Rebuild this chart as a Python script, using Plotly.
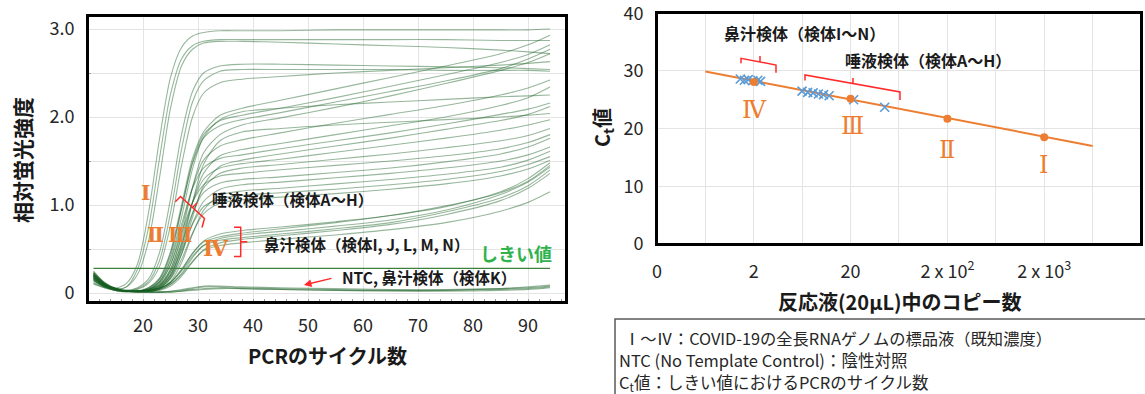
import math
import plotly.graph_objects as go

W, H = 1145, 394
def px(x): return x / W
def py(y): return 1 - y / H

# ---------------- left chart: amplification curves ----------------
cycles = [11, 13, 15, 17, 19, 21, 23, 25, 27, 29, 31, 34, 38, 45, 55, 65, 75, 85, 90, 94]

std_I_a  = [0.24,0.12,0.06,0.11,0.33,0.91,1.75,2.45,2.79,2.92,2.96,2.98,2.98,2.98,2.99,2.99,2.99,2.99,2.99,3.00]
std_I_b  = [0.20,0.10,0.05,0.07,0.27,0.74,1.53,2.26,2.66,2.81,2.86,2.88,2.88,2.88,2.88,2.88,2.88,2.87,2.87,2.87]
std_I_c  = [0.18,0.09,0.04,0.07,0.21,0.59,1.31,2.10,2.58,2.77,2.84,2.86,2.86,2.85,2.83,2.81,2.79,2.76,2.74,2.72]
std_II_a = [0.22,0.11,0.05,0.03,0.06,0.16,0.46,1.07,1.80,2.29,2.50,2.58,2.60,2.60,2.59,2.58,2.57,2.56,2.55,2.54]
std_II_b = [0.17,0.08,0.04,0.02,0.05,0.13,0.37,0.91,1.63,2.17,2.41,2.52,2.54,2.54,2.54,2.54,2.53,2.53,2.53,2.52]
std_II_c = [0.20,0.09,0.04,0.02,0.04,0.11,0.30,0.77,1.45,2.00,2.27,2.39,2.43,2.46,2.50,2.53,2.56,2.59,2.61,2.63]

sal_h1 = [0.21,0.10,0.05,0.02,0.02,0.06,0.17,0.47,1.00,1.53,1.83,2.02,2.10,2.19,2.32,2.45,2.58,2.72,2.82,2.93]
sal_h2 = [0.16,0.08,0.04,0.02,0.02,0.05,0.13,0.38,0.86,1.41,1.77,1.97,2.06,2.10,2.14,2.17,2.20,2.23,2.24,2.25]
sal_h3 = [0.19,0.09,0.04,0.02,0.02,0.06,0.16,0.45,0.96,1.47,1.76,1.90,1.97,2.05,2.17,2.29,2.41,2.55,2.66,2.77]
sal_h4 = [0.23,0.11,0.05,0.02,0.02,0.04,0.09,0.27,0.66,1.20,1.59,1.80,1.91,1.99,2.11,2.24,2.38,2.53,2.62,2.72]
sal_h5 = [0.15,0.07,0.03,0.02,0.02,0.03,0.07,0.20,0.53,1.03,1.46,1.73,1.83,1.87,1.91,1.94,1.97,2.00,2.02,2.04]
sal_h6 = [0.18,0.09,0.04,0.02,0.02,0.05,0.15,0.42,0.95,1.49,1.80,1.96,2.02,2.10,2.22,2.35,2.48,2.62,2.71,2.82]

mid_1 = [0.20,0.10,0.04,0.02,0.02,0.04,0.11,0.32,0.73,1.20,1.51,1.67,1.74,1.82,1.93,2.03,2.13,2.25,2.33,2.42]
mid_2 = [0.17,0.08,0.04,0.02,0.02,0.03,0.08,0.24,0.57,1.03,1.36,1.56,1.63,1.70,1.80,1.90,2.00,2.13,2.22,2.34]
mid_3 = [0.22,0.10,0.05,0.02,0.02,0.04,0.13,0.36,0.78,1.19,1.42,1.53,1.57,1.64,1.73,1.82,1.92,2.03,2.09,2.16]
mid_4 = [0.14,0.07,0.03,0.02,0.02,0.03,0.06,0.17,0.44,0.86,1.22,1.44,1.51,1.58,1.67,1.76,1.86,1.96,2.03,2.12]
mid_5 = [0.19,0.09,0.04,0.02,0.02,0.04,0.10,0.27,0.62,1.03,1.29,1.42,1.47,1.52,1.60,1.68,1.76,1.85,1.91,1.97]
mid_6 = [0.16,0.08,0.04,0.02,0.02,0.03,0.07,0.21,0.50,0.90,1.19,1.36,1.42,1.46,1.52,1.58,1.65,1.73,1.79,1.87]
mid_7 = [0.21,0.10,0.05,0.02,0.02,0.04,0.12,0.32,0.68,1.03,1.23,1.33,1.36,1.40,1.45,1.50,1.56,1.64,1.71,1.80]

low_1 = [0.18,0.09,0.04,0.02,0.02,0.03,0.09,0.24,0.55,0.91,1.14,1.25,1.29,1.32,1.37,1.42,1.49,1.58,1.66,1.76]
low_2 = [0.20,0.10,0.04,0.02,0.02,0.03,0.06,0.18,0.44,0.79,1.04,1.18,1.23,1.26,1.31,1.36,1.42,1.50,1.57,1.66]
low_3 = [0.15,0.07,0.03,0.02,0.02,0.02,0.05,0.13,0.34,0.67,0.94,1.11,1.16,1.19,1.24,1.29,1.35,1.43,1.51,1.61]
low_4 = [0.23,0.11,0.05,0.02,0.02,0.03,0.08,0.20,0.48,0.78,0.98,1.07,1.11,1.14,1.18,1.23,1.29,1.38,1.46,1.55]
low_5 = [0.17,0.08,0.04,0.02,0.02,0.02,0.06,0.16,0.38,0.68,0.90,1.02,1.06,1.09,1.13,1.18,1.24,1.33,1.41,1.51]

nas_1 = [0.22,0.11,0.05,0.03,0.02,0.02,0.05,0.12,0.26,0.45,0.59,0.67,0.71,0.75,0.81,0.88,0.98,1.15,1.30,1.48]
nas_2 = [0.19,0.09,0.04,0.02,0.02,0.02,0.04,0.10,0.22,0.40,0.54,0.62,0.66,0.70,0.76,0.83,0.94,1.12,1.26,1.43]
nas_3 = [0.25,0.12,0.05,0.03,0.02,0.02,0.05,0.12,0.25,0.42,0.54,0.60,0.63,0.67,0.73,0.80,0.92,1.08,1.22,1.40]
nas_4 = [0.17,0.08,0.04,0.02,0.02,0.02,0.03,0.08,0.19,0.35,0.49,0.57,0.61,0.65,0.71,0.78,0.89,1.05,1.19,1.36]
nas_5 = [0.21,0.10,0.05,0.02,0.02,0.02,0.04,0.10,0.21,0.36,0.48,0.54,0.57,0.61,0.66,0.72,0.80,0.93,1.03,1.15]
nas_6 = [0.20,0.10,0.04,0.02,0.02,0.02,0.05,0.12,0.27,0.45,0.58,0.64,0.68,0.73,0.80,0.88,0.99,1.14,1.27,1.45]

ntc_1 = [0.12,0.07,0.04,0.02,0.01,0.01,0.01,0.02,0.03,0.05,0.07,0.07,0.06,0.05,0.04,0.03,0.03,0.05,0.07,0.09]
ntc_2 = [0.10,0.06,0.03,0.01,0.01,0.01,0.01,0.01,0.02,0.04,0.05,0.06,0.05,0.04,0.03,0.02,0.02,0.03,0.04,0.06]
ntc_3 = [0.14,0.08,0.04,0.02,0.01,0.01,0.01,0.02,0.04,0.06,0.08,0.08,0.07,0.06,0.05,0.04,0.04,0.05,0.06,0.08]
ntc_K = [0.11,0.06,0.03,0.02,0.01,0.01,0.01,0.01,0.02,0.03,0.04,0.05,0.05,0.04,0.03,0.03,0.03,0.04,0.05,0.07]

threshold_x = [11, 94]
threshold_y = [0.28, 0.28]

curves = [std_I_a, std_I_b, std_I_c, std_II_a, std_II_b, std_II_c,
          sal_h1, sal_h2, sal_h3, sal_h4, sal_h5, sal_h6,
          mid_1, mid_2, mid_3, mid_4, mid_5, mid_6, mid_7,
          low_1, low_2, low_3, low_4, low_5,
          nas_1, nas_2, nas_3, nas_4, nas_5, nas_6,
          ntc_1, ntc_2, ntc_3, ntc_K]

left_xticks = [20, 30, 40, 50, 60, 70, 80, 90]
left_yticks = [0, 1.0, 2.0, 3.0]
left_ylabels = ["0", "1.0", "2.0", "3.0"]
left_yminor = [0.5, 1.5, 2.5]

# ---------------- right chart: Ct vs copies ----------------
std_copies = [2, 20, 200, 2000]
std_ct = [28.1, 25.2, 21.7, 18.5]
fit_copies = [0.632, 6325]
fit_ct = [29.9, 17.0]
nasal_copies = [1.45, 1.6, 1.75, 1.95, 2.2, 2.35]
nasal_ct = [28.6, 28.4, 28.5, 28.3, 28.4, 28.2]
saliva_copies = [6.3, 7.2, 8.2, 9.3, 10.5, 12.0, 21.5, 45]
saliva_ct = [26.5, 26.3, 26.2, 26.0, 25.9, 25.7, 25.0, 23.7]

right_xticks = [0.2, 2, 20, 200, 2000]
right_xlabels = ["0", "2", "20", "2 x 10<sup>2</sup>", "2 x 10<sup>3</sup>"]
right_xminor = [0.632, 6.32, 63.2, 632, 6325, 20000]
right_yticks = [0, 10, 20, 30, 40]

FONT = "Noto Sans CJK JP"
GREEN = "rgba(25,95,35,0.45)"
ORANGE = "#ED7D31"
BLUE = "#5B9BD5"
RED = "#FF2A2A"
ROMAN = "DejaVu Serif"
GRID = "#e4e4e4"

fig = go.Figure()
for ys in curves:
    fig.add_trace(go.Scatter(x=cycles, y=ys, mode="lines", xaxis="x", yaxis="y",
                             line=dict(color=GREEN, width=1.1, shape="spline", smoothing=0.8),
                             hoverinfo="skip", showlegend=False))
fig.add_trace(go.Scatter(x=threshold_x, y=threshold_y, mode="lines", xaxis="x", yaxis="y",
                         line=dict(color="#3f7f3f", width=1.2), showlegend=False))

fig.add_trace(go.Scatter(x=fit_copies, y=fit_ct, mode="lines", xaxis="x2", yaxis="y2",
                         line=dict(color=ORANGE, width=2), showlegend=False))
fig.add_trace(go.Scatter(x=nasal_copies, y=nasal_ct, mode="markers", xaxis="x2", yaxis="y2",
                         marker=dict(symbol="x-thin", size=9, line=dict(color=BLUE, width=1.6)),
                         showlegend=False))
fig.add_trace(go.Scatter(x=saliva_copies, y=saliva_ct, mode="markers", xaxis="x2", yaxis="y2",
                         marker=dict(symbol="x-thin", size=9, line=dict(color=BLUE, width=1.6)),
                         showlegend=False))
fig.add_trace(go.Scatter(x=std_copies, y=std_ct, mode="markers", xaxis="x2", yaxis="y2",
                         marker=dict(size=8, color=ORANGE), showlegend=False))

def axis(**kw):
    d = dict(showline=True, mirror=True, linecolor="black", linewidth=2,
             zeroline=False, gridcolor=GRID, gridwidth=1, automargin=False,
             showgrid=True, ticks="", ticklabeloverflow="allow",
             tickfont=dict(family=FONT, size=18, color="#262626"))
    d.update(kw)
    return d

fig.update_layout(
    width=W, height=H, autosize=False,
    margin=dict(l=0, r=0, t=0, b=0, pad=0),
    paper_bgcolor="white", plot_bgcolor="white",
    font=dict(family=FONT, color="#222"),
    showlegend=False,
    xaxis=axis(domain=[px(88), px(566)], range=[10, 96.9], tickvals=left_xticks,
               anchor="y", ticklabelstandoff=6,
               minor=dict(ticks="inside", dtick=2, ticklen=3, tickcolor="#999", showgrid=False)),
    yaxis=axis(domain=[py(302), py(16)], range=[-0.102, 3.148], tickvals=left_yticks,
               ticktext=left_ylabels, anchor="x", ticklabelstandoff=8,
               minor=dict(ticks="inside", tickvals=left_yminor, ticklen=3,
                          tickcolor="#999", showgrid=True, gridcolor=GRID, gridwidth=1)),
    xaxis2=axis(type="log", domain=[px(657), px(1141)],
                range=[math.log10(0.2), math.log10(20000)],
                tickvals=right_xticks, ticktext=right_xlabels, anchor="y2",
                ticklabelstandoff=10,
                minor=dict(tickvals=right_xminor, ticks="", showgrid=True,
                           gridcolor=GRID, gridwidth=1)),
    yaxis2=axis(domain=[py(244), py(13)], range=[-0.02, 40.06], tickvals=right_yticks,
                anchor="x2", ticklabelstandoff=8),
)

ann = []
def text(x, y, t, size=14, color="#1a1a1a", anchor="left", family=FONT, angle=0):
    ann.append(dict(x=px(x), y=py(y), xref="paper", yref="paper", text=t, showarrow=False,
                    xanchor=anchor, yanchor="middle", textangle=angle,
                    font=dict(family=family, size=size, color=color)))

# left chart labels
text(145, 193, "<b>Ⅰ</b>", 20, ORANGE, "center", ROMAN)
text(155, 235, "<b>Ⅱ</b>", 20, ORANGE, "center", ROMAN)
text(180, 235, "<b>Ⅲ</b>", 20, ORANGE, "center", ROMAN)
text(216, 248, "<b>Ⅳ</b>", 22, ORANGE, "center", ROMAN)
text(210, 199, "<b>唾液検体（検体A～H）</b>", 15.5)
text(262, 244, "<b>鼻汁検体（検体I, J, L, M, N）</b>", 15.5)
text(340, 277, "<b>NTC, 鼻汁検体（検体K）</b>", 15.5)
text(478, 253, "<b>しきい値</b>", 18, "#2FB34D")
text(22, 160, "<b>相対蛍光強度</b>", 21, "#1a1a1a", "center", FONT, -90)
text(327, 355, "<b>PCRのサイクル数</b>", 20, "#1a1a1a", "center")

# right chart labels
text(722, 33, "<b>鼻汁検体（検体I～N）</b>", 16)
text(843, 60, "<b>唾液検体（検体A～H）</b>", 16)
text(754, 110, "Ⅳ", 24, ORANGE, "center", ROMAN)
text(852, 126, "Ⅲ", 24, ORANGE, "center", ROMAN)
text(947, 150, "Ⅱ", 24, ORANGE, "center", ROMAN)
text(1043, 165, "Ⅰ", 24, ORANGE, "center", ROMAN)
text(603, 128, "<b>C<sub>t</sub>値</b>", 20, "#1a1a1a", "center", FONT, -90)
text(900, 301, "<b>反応液(20µL)中のコピー数</b>", 20, "#1a1a1a", "center")

# note box text
text(622, 338, "Ⅰ～Ⅳ：COVID-19の全長RNAゲノムの標品液（既知濃度）", 16.3, "#262626")
text(617, 360, "NTC (No Template Control)：陰性対照", 16.5, "#262626")
text(617, 382, "C<sub>t</sub>値：しきい値におけるPCRのサイクル数", 16.5, "#262626")

# arrow
ann.append(dict(x=px(304), y=py(285), xref="paper", yref="paper", text="",
                showarrow=True, ax=29, ay=-7, axref="pixel", ayref="pixel",
                arrowhead=2, arrowsize=1, arrowwidth=1.5, arrowcolor=RED))
fig.update_layout(annotations=ann)

def path(points_list):
    s = ""
    for pts in points_list:
        s += "M {} {} ".format(px(pts[0][0]), py(pts[0][1]))
        for (a, b) in pts[1:]:
            s += "L {} {} ".format(px(a), py(b))
    return s

shapes = []
def bracket(pts_list):
    shapes.append(dict(type="path", xref="paper", yref="paper", path=path(pts_list),
                       line=dict(color=RED, width=1.5)))

bracket([[(175.3, 201.7), (180.5, 196.5), (204.5, 218.5), (202, 227.5)], [(192.5, 207.5), (197, 203)]])
bracket([[(234, 227.3), (240.7, 227.3), (240.7, 256.5), (234, 256.5)], [(240.7, 241.7), (247.3, 241.7)]])
bracket([[(741, 63.3), (741, 58.3), (776, 65), (776, 72.7)], [(760, 61.5), (760, 56)]])
bracket([[(805, 80.5), (805, 75), (900, 92), (900, 100)], [(853, 83.5), (853, 78)]])

# plot frames
for xr, yr in (("x domain", "y domain"), ("x2 domain", "y2 domain")):
    shapes.append(dict(type="rect", xref=xr, yref=yr, x0=0, x1=1, y0=0, y1=1,
                       line=dict(color="black", width=2), layer="above"))

shapes.append(dict(type="rect", xref="paper", yref="paper", x0=px(615), x1=px(1160),
                   y0=py(410), y1=py(319), line=dict(color="#595959", width=1.5)))
fig.update_layout(shapes=shapes)

fig.write_html("out.html", config={"displayModeBar": False},
               post_script="document.body.style.margin='0px';document.body.style.overflow='hidden';")
